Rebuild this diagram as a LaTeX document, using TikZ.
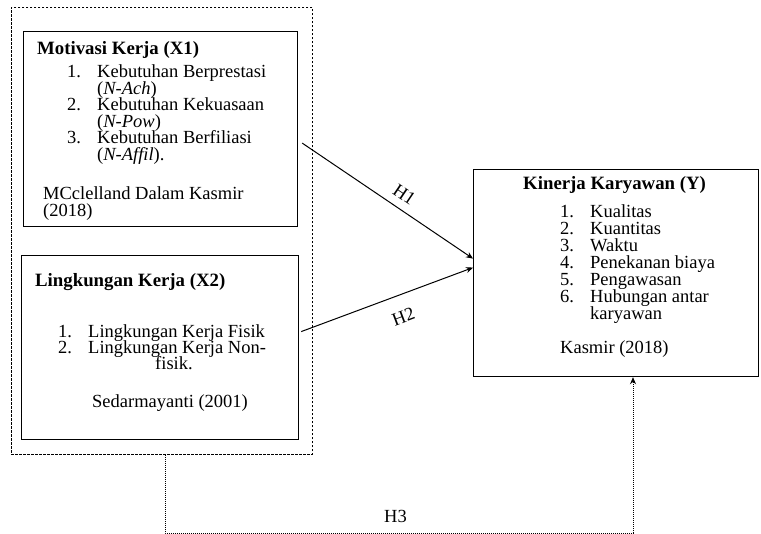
\documentclass[tikz,border=0pt]{standalone}
\usepackage{fontspec}
\setmainfont{Liberation Serif}
\usetikzlibrary{arrows.meta}
\usetikzlibrary{calc,positioning}

\begin{document}
\begin{tikzpicture}[x=1pt, y=-1pt]
	\tikzstyle{kotak}=[draw, line width=1.2pt, rectangle, inner sep=0pt, anchor=north west]
	\tikzstyle{teks}=[inner sep=0pt, anchor=base west, font=\fontsize{18.5}{16}\selectfont]
	\tikzstyle{judul}=[teks, font=\fontsize{18.8}{16}\selectfont\bfseries]
	\tikzstyle{panah}=[-{Stealth[length=7pt, width=6pt]}, line width=1pt]
	\useasboundingbox (0,0) rectangle (761,534);

	% kotak variabel
	\node[draw, line width=0.9pt, dash pattern=on 2.5pt off 1.5pt, rectangle, inner sep=0pt, anchor=north west,
		minimum width=301pt, minimum height=447pt] (variabelX) at (11,7) {};
	\node[kotak, minimum width=274pt, minimum height=195pt] (motivasi) at (23,31) {};
	\node[kotak, minimum width=277pt, minimum height=184pt] (lingkungan) at (21,255) {};
	\node[kotak, minimum width=285pt, minimum height=207pt] (kinerja) at (473,169) {};

	% Motivasi Kerja
	\node[judul] (motivasiJudul) at (37,55) {Motivasi Kerja (X1)};
	\foreach \no/\isi/\y [count=\k] in {1./Kebutuhan Berprestasi/78, /(\textit{N-Ach})/94.5,
		2./Kebutuhan Kekuasaan/111, /(\textit{N-Pow})/127.5,
		3./Kebutuhan Berfiliasi/144, /(\textit{N-Affil})./160.5}
	{
		\node[teks] (motivasiNo\k) at (67,\y) {\no};
		\node[teks] (motivasiIsi\k) at (97,\y) {\isi};
	}
	\node[teks] (motivasiSumber) at (43,200) {MCclelland Dalam Kasmir};
	\node[teks] (motivasiTahun) at (43,217) {(2018)};

	% Lingkungan Kerja
	\node[judul] (lingkunganJudul) at (35,287) {Lingkungan Kerja (X2)};
	\node[teks] (lingkunganNo1) at (58,338) {1.};
	\node[teks] (lingkunganIsi1) at (88,338) {Lingkungan Kerja Fisik};
	\node[teks] (lingkunganNo2) at (58,354) {2.};
	\node[teks] (lingkunganIsi2) at (88,354) {Lingkungan Kerja Non-};
	\node[teks] (lingkunganIsi3) at (155,370) {fisik.};
	\node[teks] (lingkunganSumber) at (92,408) {Sedarmayanti (2001)};

	% Kinerja Karyawan
	\node[judul] (kinerjaJudul) at (523,190) {Kinerja Karyawan (Y)};
	\foreach \no/\isi/\y [count=\k] in {1./Kualitas/218, 2./Kuantitas/235, 3./Waktu/252,
		4./Penekanan biaya/269, 5./Pengawasan/286, 6./Hubungan antar/303, /karyawan/320}
	{
		\node[teks] (kinerjaNo\k) at (560,\y) {\no};
		\node[teks] (kinerjaIsi\k) at (590,\y) {\isi};
	}
	\node[teks] (kinerjaSumber) at (560,354) {Kasmir (2018)};

	% hipotesis
	\draw[panah] ([xshift=4pt, yshift=-14pt]motivasi.east) -- ([yshift=14.5pt]kinerja.west)
		node[pos=0.55, sloped, above=8pt, teks, anchor=south] (h1) {H1};
	\draw[panah] ([xshift=2pt, yshift=16pt]lingkungan.east) -- ([yshift=5.5pt]kinerja.west)
		node[pos=0.55, sloped, below=15pt, teks, anchor=north] (h2) {H2};

	\coordinate (h3kiri) at (165,533);
	\coordinate (h3kanan) at (633,533);
	\draw[line width=0.9pt, dash pattern=on 1.2pt off 0.8pt] (variabelX.south -| h3kiri) -- (h3kiri) -- (h3kanan);
	\draw[panah, line width=0.9pt, dash pattern=on 1.2pt off 0.8pt] (h3kanan) -- (h3kanan |- kinerja.south);
	\node[teks] (h3) at (384,522) {H3};
\end{tikzpicture}
\end{document}
